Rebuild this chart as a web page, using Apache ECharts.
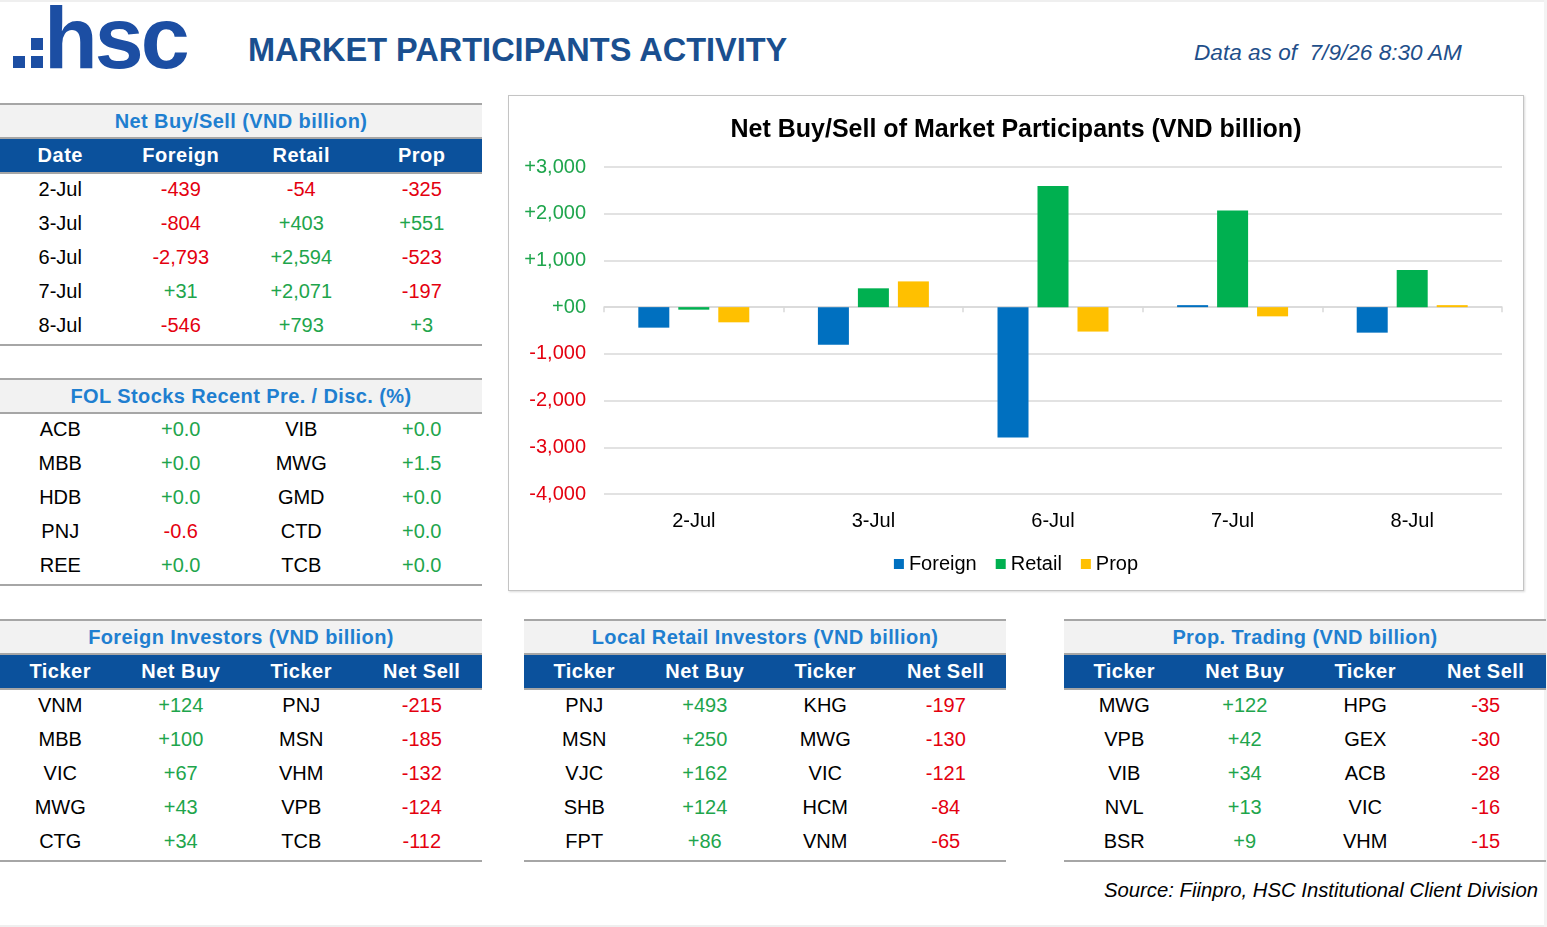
<!DOCTYPE html>
<html>
<head>
<meta charset="UTF-8"/>
<title>Market Participants Activity</title>
<script src="https://cdn.jsdelivr.net/npm/echarts@6/dist/echarts.min.js"></script>
<style>
html,body{margin:0;padding:0;background:#fff;}
body{width:1547px;height:927px;position:relative;overflow:hidden;font-family:"Liberation Sans",Arial,sans-serif;}
.abs{position:absolute;white-space:nowrap;line-height:1;}
.tbl{position:absolute;width:482px;}
.tbl .ttl{height:32px;line-height:32px;background:#f2f2f2;border-top:2px solid #a6a6a6;border-bottom:2px solid #a6a6a6;text-align:center;color:#1f7fd0;font-weight:bold;font-size:20px;letter-spacing:0.4px;}
.tbl .hdr{height:33px;background:#0b519c;border-bottom:2px solid #a6a6a6;display:flex;}
.tbl .hdr div{flex:1;text-align:center;color:#fff;font-weight:bold;font-size:20px;line-height:33px;letter-spacing:0.5px;}
.tbl .body{border-bottom:2px solid #a6a6a6;}
.tbl .row{height:34px;display:flex;}
.tbl .row div{flex:1;text-align:center;font-size:20px;line-height:30px;color:#000;}
.tbl .row .pos{color:#1ea54c;}
.tbl .row .neg{color:#e4000f;}
#box{position:absolute;left:508px;top:95px;width:1014px;height:494px;border:1px solid #c4c4c4;box-shadow:1px 1px 2px rgba(0,0,0,0.15);}
#chart{position:absolute;left:0;top:0;width:1014px;height:494px;}
.sq{position:absolute;width:12px;height:12px;background:#1c4ea3;}
</style>
</head>
<body>
<div class="abs" style="left:0;top:0;width:1547px;height:2px;background:#efefef;"></div>
<div class="abs" style="left:0;top:925px;width:1547px;height:2px;background:#efefef;"></div>
<div class="abs" style="left:1544px;top:0;width:3px;height:927px;background:#f3f3f3;"></div>

<div class="sq" style="left:13px;top:56px;"></div>
<div class="sq" style="left:31px;top:56px;"></div>
<div class="sq" style="left:31px;top:38px;"></div>
<div class="abs" style="left:44px;top:-6px;font-size:88px;font-weight:bold;color:#1c4ea3;letter-spacing:-3px;">hsc</div>

<div class="abs" style="left:248px;top:34px;font-size:32.5px;font-weight:bold;color:#1a4f8f;">MARKET PARTICIPANTS ACTIVITY</div>
<div class="abs" style="left:1194px;top:42px;font-size:22.6px;font-style:italic;color:#1f4f8a;">Data as of&nbsp; 7/9/26 8:30 AM</div>
<div class="abs" style="right:9px;top:880px;font-size:20.3px;font-style:italic;color:#000;">Source: Fiinpro, HSC Institutional Client Division</div>

<div id="t1" class="tbl" style="left:0;top:103px;"></div>
<div id="t2" class="tbl" style="left:0;top:378px;"></div>
<div id="t3" class="tbl" style="left:0;top:619px;"></div>
<div id="t4" class="tbl" style="left:524px;top:619px;"></div>
<div id="t5" class="tbl" style="left:1064px;top:619px;"></div>

<div id="box"><div id="chart"></div></div>

<script>
var GREEN = '#1ea54c';
var RED = '#e4000f';

// net buy/sell by date
var dates = ['2-Jul', '3-Jul', '6-Jul', '7-Jul', '8-Jul'];
var foreignNet = [-439, -804, -2793, 31, -546];
var retailNet = [-54, 403, 2594, 2071, 793];
var propNet = [-325, 551, -523, -197, 3];

// FOL stocks premium / discount (%)
var folLeft = ['ACB', 'MBB', 'HDB', 'PNJ', 'REE'];
var folLeftVal = [0.0, 0.0, 0.0, -0.6, 0.0];
var folRight = ['VIB', 'MWG', 'GMD', 'CTD', 'TCB'];
var folRightVal = [0.0, 1.5, 0.0, 0.0, 0.0];

// top tickers
var foreignBuyTk = ['VNM', 'MBB', 'VIC', 'MWG', 'CTG'];
var foreignBuy = [124, 100, 67, 43, 34];
var foreignSellTk = ['PNJ', 'MSN', 'VHM', 'VPB', 'TCB'];
var foreignSell = [-215, -185, -132, -124, -112];

var retailBuyTk = ['PNJ', 'MSN', 'VJC', 'SHB', 'FPT'];
var retailBuy = [493, 250, 162, 124, 86];
var retailSellTk = ['KHG', 'MWG', 'VIC', 'HCM', 'VNM'];
var retailSell = [-197, -130, -121, -84, -65];

var propBuyTk = ['MWG', 'VPB', 'VIB', 'NVL', 'BSR'];
var propBuy = [122, 42, 34, 13, 9];
var propSellTk = ['HPG', 'GEX', 'ACB', 'VIC', 'VHM'];
var propSell = [-35, -30, -28, -16, -15];

function fmt(v) {
    return (v < 0 ? '-' : '+') + Math.abs(v).toLocaleString('en-US');
}
function fmt1(v) {
    return (v < 0 ? '-' : '+') + Math.abs(v).toFixed(1);
}
function cell(text, cls) {
    return '<div' + (cls ? ' class="' + cls + '"' : '') + '>' + text + '</div>';
}
function numCell(v, f) {
    return cell(f(v), v < 0 ? 'neg' : 'pos');
}

// cols: array of {labels} or {values, f}
function buildTable(id, title, header, cols) {
    var html = '<div class="ttl">' + title + '</div>';
    if (header) {
        html += '<div class="hdr">' + header.map(function (h) { return cell(h); }).join('') + '</div>';
    }
    html += '<div class="body">';
    for (var i = 0; i < 5; i++) {
        html += '<div class="row">';
        cols.forEach(function (c) {
            if (c.labels) html += cell(c.labels[i]);
            else html += numCell(c.values[i], c.f);
        });
        html += '</div>';
    }
    html += '</div>';
    document.getElementById(id).innerHTML = html;
}

buildTable('t1', 'Net Buy/Sell (VND billion)', ['Date', 'Foreign', 'Retail', 'Prop'],
    [{labels: dates}, {values: foreignNet, f: fmt}, {values: retailNet, f: fmt}, {values: propNet, f: fmt}]);
buildTable('t2', 'FOL Stocks Recent Pre. / Disc. (%)', null,
    [{labels: folLeft}, {values: folLeftVal, f: fmt1}, {labels: folRight}, {values: folRightVal, f: fmt1}]);
var tickHdr = ['Ticker', 'Net Buy', 'Ticker', 'Net Sell'];
buildTable('t3', 'Foreign Investors (VND billion)', tickHdr,
    [{labels: foreignBuyTk}, {values: foreignBuy, f: fmt}, {labels: foreignSellTk}, {values: foreignSell, f: fmt}]);
buildTable('t4', 'Local Retail Investors (VND billion)', tickHdr,
    [{labels: retailBuyTk}, {values: retailBuy, f: fmt}, {labels: retailSellTk}, {values: retailSell, f: fmt}]);
buildTable('t5', 'Prop. Trading (VND billion)', tickHdr,
    [{labels: propBuyTk}, {values: propBuy, f: fmt}, {labels: propSellTk}, {values: propSell, f: fmt}]);

var myChart = echarts.init(document.getElementById('chart'));
var option = {
    animation: false,
    textStyle: {fontFamily: 'Liberation Sans, Arial, sans-serif'},
    title: {
        text: 'Net Buy/Sell of Market Participants (VND billion)',
        left: 'center',
        top: 17,
        textStyle: {fontSize: 25, fontWeight: 'bold', color: '#000'}
    },
    legend: {
        top: 453,
        left: 'center',
        icon: 'rect',
        itemWidth: 10,
        itemHeight: 10,
        itemGap: 19,
        textStyle: {fontSize: 20, color: '#000'},
        data: ['Foreign', 'Retail', 'Prop']
    },
    grid: {left: 95, right: 21, top: 71, bottom: 96},
    xAxis: [
        {
            type: 'category',
            data: dates,
            position: 'bottom',
            axisLine: {onZero: true, lineStyle: {color: '#d9d9d9', width: 1.5}},
            axisTick: {show: true, length: 5, lineStyle: {color: '#d9d9d9', width: 1.5}},
            axisLabel: {show: false}
        },
        {
            type: 'category',
            data: dates,
            position: 'bottom',
            axisLine: {show: false, onZero: false},
            axisTick: {show: false},
            axisLabel: {margin: 17, fontSize: 20, color: '#000'}
        }
    ],
    yAxis: {
        type: 'value',
        min: -4000,
        max: 3000,
        interval: 1000,
        axisLine: {show: false},
        axisTick: {show: false},
        splitLine: {lineStyle: {color: '#d9d9d9', width: 1.5}},
        axisLabel: {
            margin: 18,
            formatter: function (v) {
                if (v > 0) return '{g|+' + v.toLocaleString('en-US') + '}';
                if (v === 0) return '{g|+00}';
                return '{r|-' + Math.abs(v).toLocaleString('en-US') + '}';
            },
            rich: {
                g: {color: GREEN, fontSize: 20},
                r: {color: RED, fontSize: 20}
            }
        }
    },
    series: [
        {name: 'Foreign', type: 'bar', data: foreignNet, barWidth: 31, barGap: '29%', barMinHeight: 2, itemStyle: {color: '#0070c0'}},
        {name: 'Retail', type: 'bar', data: retailNet, barWidth: 31, barGap: '29%', barMinHeight: 2, itemStyle: {color: '#00b050'}},
        {name: 'Prop', type: 'bar', data: propNet, barWidth: 31, barGap: '29%', barMinHeight: 2, itemStyle: {color: '#ffc000'}}
    ]
};
myChart.setOption(option);
</script>
</body>
</html>
